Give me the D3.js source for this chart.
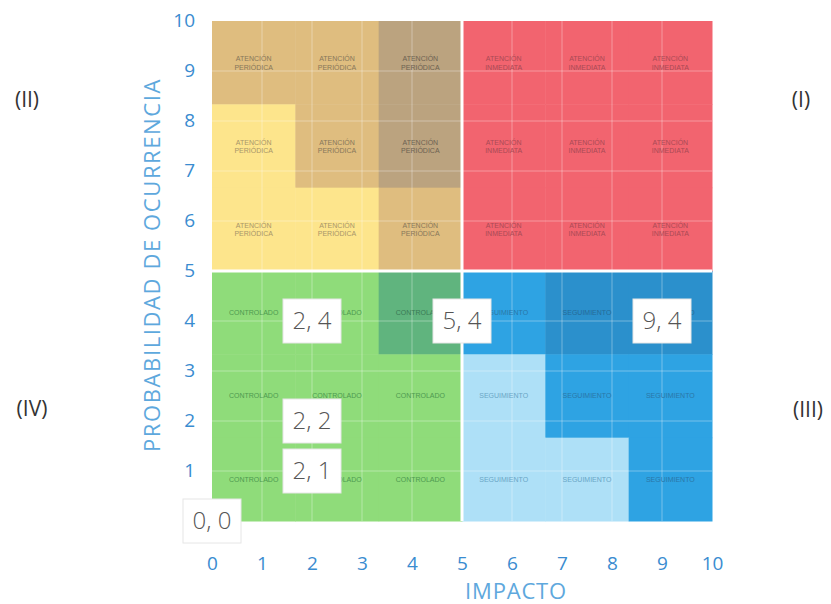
<!DOCTYPE html>
<html>
<head>
<meta charset="utf-8">
<script src="https://cdn.jsdelivr.net/npm/d3@7"></script>
<style>
  body { margin: 0; background: #fff; }
  .tick text { font-family: "Open Sans", "DejaVu Sans", sans-serif; fill: #3a8cd0; }
</style>
</head>
<body>
<div id="chart"></div>
<script>
var width = 831, height = 604;

// categories of the 6x6 cells, top row (prob 10) first
var cellRows = [
  ["tan", "tan", "dark", "red", "red", "red"],
  ["yellow", "tan", "dark", "red", "red", "red"],
  ["yellow", "yellow", "tan", "red", "red", "red"],
  ["green", "green", "dkgreen", "blue", "steel", "steel"],
  ["green", "green", "green", "light", "blue", "blue"],
  ["green", "green", "green", "light", "light", "blue"]
];
var palette = {
  yellow: "#fde58c", tan: "#dfbd7f", dark: "#bba37f", red: "#f2646f",
  green: "#8fdc7a", dkgreen: "#60b47e", blue: "#2ea3e3", steel: "#2b90cc", light: "#aee0f7"
};
var textColor = {
  yellow: "#a8956a", tan: "#87775a", dark: "#6c6252", red: "#a94a55",
  green: "#4e9a50", dkgreen: "#3a7a55", blue: "#2a77a8", steel: "#256b98", light: "#6aa6c6"
};
var quadrantText = {
  TL: ["ATENCIÓN", "PERIÓDICA"],
  TR: ["ATENCIÓN", "INMEDIATA"],
  BL: ["CONTROLADO"],
  BR: ["SEGUIMIENTO"]
};
var quadrantNames = [
  { name: "(II)", x: 27, y: 100 },
  { name: "(I)", x: 801, y: 100 },
  { name: "(IV)", x: 32, y: 409 },
  { name: "(III)", x: 808, y: 410 }
];
var points = [
  { x: 2, y: 4 }, { x: 5, y: 4 }, { x: 9, y: 4 },
  { x: 2, y: 2 }, { x: 2, y: 1 }, { x: 0, y: 0 }
];
var tickValues = d3.range(0, 11);

var x = d3.scaleLinear().domain([0, 10]).range([212, 712]);
var y = d3.scaleLinear().domain([0, 10]).range([521, 21]);

var svg = d3.select("#chart").append("svg")
    .attr("width", width)
    .attr("height", height);

// cells
var step = 10 / 6;
var cells = [];
cellRows.forEach(function(row, r) {
  row.forEach(function(c, i) {
    var q = (r < 3 ? "T" : "B") + (i < 3 ? "L" : "R");
    cells.push({ x0: i * step, y1: 10 - r * step, cat: c, q: q });
  });
});

svg.selectAll(".cell")
    .data(cells)
  .enter().append("rect")
    .attr("class", "cell")
    .attr("x", function(d) { return x(d.x0); })
    .attr("y", function(d) { return y(d.y1); })
    .attr("width", x(step) - x(0) + 0.5)
    .attr("height", y(0) - y(step) + 0.5)
    .style("fill", function(d) { return palette[d.cat]; });

// faint grid lines
var grid = svg.append("g").attr("class", "grid");
grid.selectAll(".vline").data(d3.range(1, 10))
  .enter().append("line")
    .attr("x1", function(d) { return x(d); }).attr("x2", function(d) { return x(d); })
    .attr("y1", y(10)).attr("y2", y(0))
    .style("stroke", "#fff").style("stroke-opacity", 0.35).style("stroke-width", 1);
grid.selectAll(".hline").data(d3.range(1, 10))
  .enter().append("line")
    .attr("y1", function(d) { return y(d); }).attr("y2", function(d) { return y(d); })
    .attr("x1", x(0)).attr("x2", x(10))
    .style("stroke", "#fff").style("stroke-opacity", 0.35).style("stroke-width", 1);

// quadrant dividers
svg.append("line").attr("x1", x(5)).attr("x2", x(5)).attr("y1", y(10)).attr("y2", y(0))
    .style("stroke", "#fff").style("stroke-width", 3);
svg.append("line").attr("y1", y(5)).attr("y2", y(5)).attr("x1", x(0)).attr("x2", x(10))
    .style("stroke", "#fff").style("stroke-width", 3);

// cell labels
var labels = svg.selectAll(".cellLabel")
    .data(cells)
  .enter().append("text")
    .attr("class", "cellLabel")
    .attr("x", function(d) { return x(d.x0 + step / 2); })
    .attr("y", function(d) { return y(d.y1 - step / 2); })
    .style("text-anchor", "middle")
    .style("font-family", "'Liberation Sans Narrow', 'Liberation Sans', sans-serif")
    .style("font-size", "7px")
    .style("fill", function(d) { return textColor[d.cat]; });

labels.each(function(d) {
  var lines = quadrantText[d.q];
  var t = d3.select(this);
  lines.forEach(function(l, i) {
    t.append("tspan")
      .attr("x", t.attr("x"))
      .attr("dy", i === 0 ? (lines.length === 1 ? "0.35em" : "-0.2em") : "1.2em")
      .text(l);
  });
});

// axes
var xAxis = svg.append("g")
    .attr("transform", "translate(0,563)")
    .call(d3.axisBottom(x).tickValues(tickValues).tickSize(0).tickPadding(0));
xAxis.select(".domain").remove();
xAxis.selectAll("text").style("font-size", "19px").attr("dy", "0.35em");

var yAxis = svg.append("g")
    .attr("transform", "translate(195,0)")
    .call(d3.axisLeft(y).tickValues(tickValues).tickSize(0).tickPadding(0));
yAxis.select(".domain").remove();
yAxis.selectAll("text").style("font-size", "19px").attr("dy", "0.3em");

// axis titles
svg.append("text")
    .attr("x", 516).attr("y", 599)
    .style("text-anchor", "middle")
    .style("font-family", "'Open Sans', sans-serif")
    .style("font-size", "22px")
    .style("letter-spacing", "0.8px")
    .style("fill", "#5ea8dd")
    .text("IMPACTO");

svg.append("text")
    .attr("transform", "translate(160,265) rotate(-90)")
    .style("text-anchor", "middle")
    .style("font-family", "'Open Sans', sans-serif")
    .style("font-size", "22px")
    .style("letter-spacing", "1.6px")
    .style("fill", "#5ea8dd")
    .text("PROBABILIDAD DE OCURRENCIA");

// quadrant names
svg.selectAll(".qname")
    .data(quadrantNames)
  .enter().append("text")
    .attr("class", "qname")
    .attr("x", function(d) { return d.x; })
    .attr("y", function(d) { return d.y; })
    .attr("dy", "0.35em")
    .style("text-anchor", "middle")
    .style("font-family", "'Open Sans', sans-serif")
    .style("font-size", "21px")
    .style("fill", "#333")
    .text(function(d) { return d.name; });

// point boxes
var boxes = svg.selectAll(".pt")
    .data(points)
  .enter().append("g")
    .attr("class", "pt")
    .attr("transform", function(d) { return "translate(" + x(d.x) + "," + y(d.y) + ")"; });

boxes.append("rect")
    .attr("x", -29).attr("y", -22)
    .attr("width", 58).attr("height", 44)
    .style("fill", "#fff")
    .style("stroke", "#e6e6e6")
    .style("stroke-width", 1);

boxes.append("text")
    .attr("dy", "0.35em")
    .style("text-anchor", "middle")
    .style("font-family", "'Open Sans', 'DejaVu Sans', sans-serif")
    .style("font-weight", 300)
    .style("font-size", "24px")
    .style("fill", "#555")
    .text(function(d) { return d.x + ", " + d.y; });
</script>
</body>
</html>
